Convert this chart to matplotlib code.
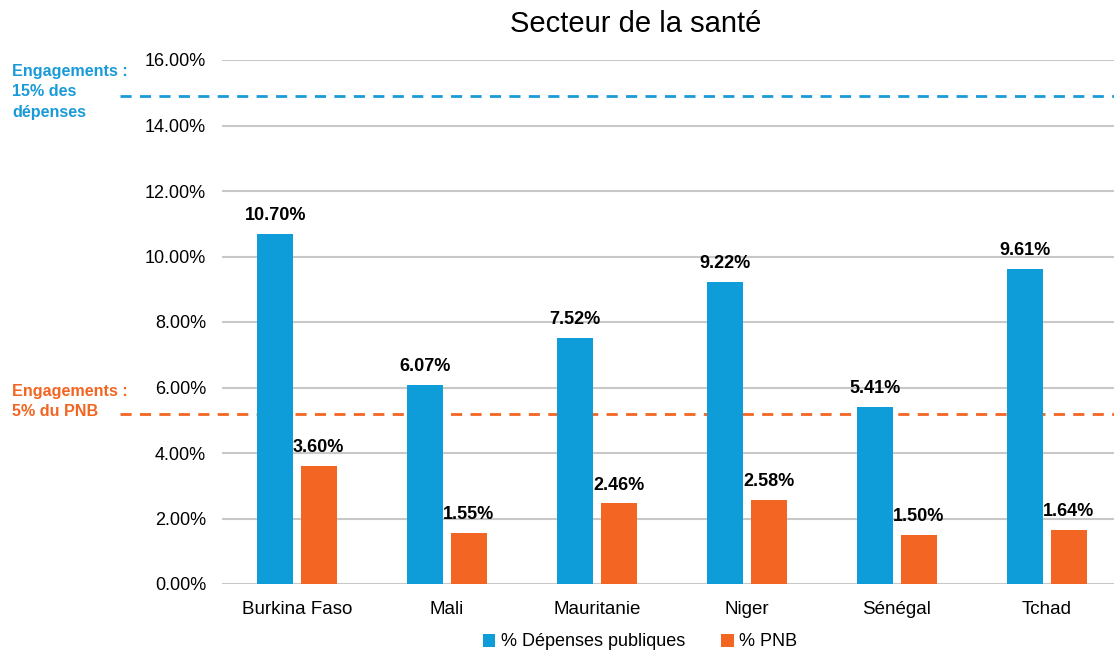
import matplotlib.pyplot as plt
import matplotlib.transforms as mtransforms
import numpy as np

plt.rcParams['font.family'] = ['Liberation Sans', 'DejaVu Sans']

pays = ['Burkina Faso', 'Mali', 'Mauritanie', 'Niger', 'Sénégal', 'Tchad']
depenses = [10.70, 6.07, 7.52, 9.22, 5.41, 9.61]
pnb = [3.60, 1.55, 2.46, 2.58, 1.50, 1.64]
seuil_depenses = 14.9
seuil_pnb = 5.2

bleu = '#0E9DD9'
orange = '#F26522'

fig = plt.figure(figsize=(11.14, 6.5), dpi=100)
ax = fig.add_axes([222 / 1114, 1 - 584 / 650, 900 / 1114, 524 / 650])

x = np.arange(len(pays))
w = 0.24
off = 0.145
b1 = ax.bar(x - off, depenses, w, color=bleu, zorder=3, label='% Dépenses publiques')
b2 = ax.bar(x + off, pnb, w, color=orange, zorder=3, label='% PNB')

for rect, v in zip(b1, depenses):
    ax.text(rect.get_x() + rect.get_width() / 2, v + 0.3, f'{v:.2f}%',
            ha='center', va='bottom', fontsize=13, fontweight='bold', zorder=4)
for rect, v in zip(b2, pnb):
    ax.text(rect.get_x() + rect.get_width() / 2, v + 0.3, f'{v:.2f}%',
            ha='center', va='bottom', fontsize=13, fontweight='bold', zorder=4)

ax.set_xlim(-0.5, len(pays) - 0.5)
ax.set_ylim(0, 16)
ax.set_yticks(np.arange(0, 17, 2))
ax.set_yticklabels([f'{t:.2f}%' for t in np.arange(0, 17, 2)], fontsize=13)
ax.set_xticks(x)
ax.set_xticklabels(pays, fontsize=13.5)
ax.tick_params(length=0, pad=11.5, axis='y')
ax.tick_params(length=0, pad=12, axis='x')
for s in ax.spines.values():
    s.set_visible(False)
ax.grid(axis='y', color='#C8C8C8', linewidth=1.5, zorder=0)
ax.set_axisbelow(True)

# lignes d'engagement, qui debordent a gauche de l'axe
trans = mtransforms.blended_transform_factory(ax.transAxes, ax.transData)
x0 = (120 - 222) / 900
ax.plot([x0, 1.02], [seuil_depenses] * 2, ls=(0, (4, 3)), color='#1A9BD7',
        lw=2, transform=trans, clip_on=False, zorder=1)
ax.plot([x0, 1.02], [seuil_pnb] * 2, ls=(0, (4, 3)), color=orange,
        lw=2, transform=trans, clip_on=False, zorder=1)

fig.text(12 / 1114, 1 - 64 / 650, 'Engagements :\n15% des\ndépenses', color='#1A9BD7',
         fontsize=11.6, fontweight='bold', ha='left', va='top', linespacing=1.45)
fig.text(12 / 1114, 1 - 384 / 650, 'Engagements :\n5% du PNB', color=orange,
         fontsize=11.6, fontweight='bold', ha='left', va='top', linespacing=1.45)

fig.text(636 / 1114, 1 - 24 / 650, 'Secteur de la santé', fontsize=21, ha='center', va='center')

fig.legend(handles=[b1, b2], loc='center', bbox_to_anchor=(640 / 1114, 1 - 642 / 650),
           ncol=2, frameon=False, fontsize=13, handlelength=0.7, handleheight=0.7,
           handletextpad=0.3, columnspacing=2.0)

fig.savefig('out.png', dpi=100)
